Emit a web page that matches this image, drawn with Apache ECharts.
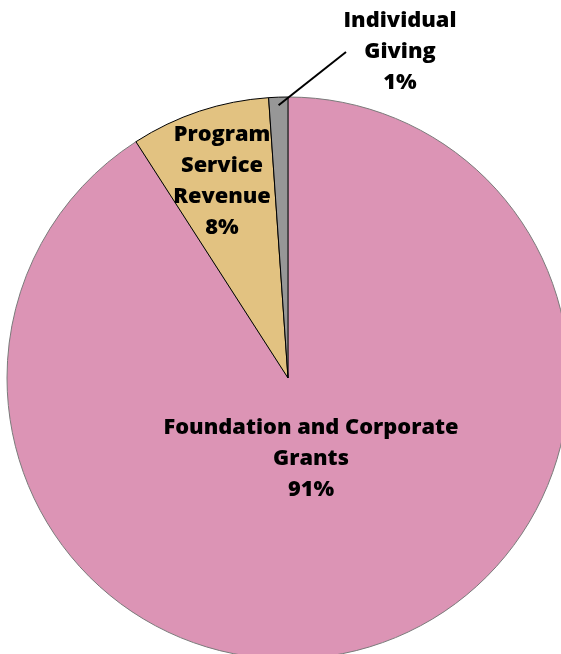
<!DOCTYPE html>
<html><head><meta charset="utf-8">
<script src="https://cdn.jsdelivr.net/npm/echarts@6/dist/echarts.min.js"></script>
<style>html,body{margin:0;padding:0;background:#fff}#c{width:561px;height:654px}</style>
</head><body><div id="c"></div>
<script>
var categories = ['Foundation and Corporate Grants', 'Program Service Revenue', 'Individual Giving'];
var labelTexts = ['Foundation and Corporate\nGrants', 'Program\nService\nRevenue', 'Individual\nGiving'];
var values = [90.9, 8.0, 1.1];
var percents = ['91%', '8%', '1%'];
var colors = ['#DC94B5', '#E2C281', '#979797'];
var borders = ['#7a7a7a', '#000000', '#000000'];
var labelPos = [[311, 459], [222, 181], [400, 52]];

var CX = 288, CY = 378, R = 281;
// leader line for the small slice: from inside the slice (derived from its mid-angle) to the label
var total = values.reduce(function (a, b) { return a + b; }, 0);
var midFrac = (values[0] + values[1] + values[2] / 2) / total;
var ang = midFrac * 2 * Math.PI; // clockwise from top
var inner = R - 8;
var p0 = [CX + inner * Math.sin(ang), CY - inner * Math.cos(ang)];
var p1 = [346, 52];

var chart = echarts.init(document.getElementById('c'), null, {renderer: 'canvas'});
chart.setOption({
  animation: false,
  graphic: [{
    type: 'line', z: 100,
    shape: {x1: p0[0], y1: p0[1], x2: p1[0], y2: p1[1]},
    style: {stroke: '#000', lineWidth: 2}
  }],
  series: [{
    type: 'pie',
    center: [CX, CY],
    radius: R,
    startAngle: 90,
    clockwise: true,
    avoidLabelOverlap: false,
    data: categories.map(function (c, i) {
      return {
        name: c,
        value: values[i],
        itemStyle: {color: colors[i], borderColor: borders[i], borderWidth: 1},
        label: {
          show: true,
          position: 'inside',
          formatter: labelTexts[i] + '\n' + percents[i],
          fontFamily: 'Open Sans',
          fontWeight: 800,
          fontSize: 21.8,
          lineHeight: 31,
          color: '#000',
          align: 'center'
        },
        labelLine: {show: false}
      };
    }),
    labelLayout: function (p) {
      var i = p.dataIndex;
      return {x: labelPos[i][0], y: labelPos[i][1], align: 'center', verticalAlign: 'middle'};
    }
  }]
});
</script></body></html>
